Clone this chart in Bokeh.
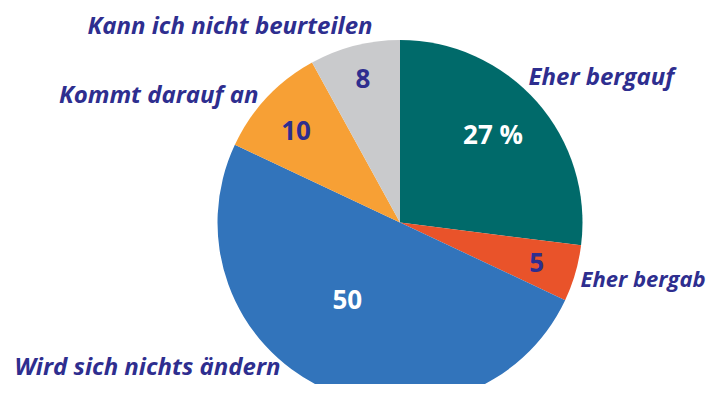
import math
from bokeh.plotting import figure
from bokeh.models import Range1d, ColumnDataSource
from bokeh.core.properties import value
from bokeh.embed import file_html
from bokeh.resources import INLINE

# ---- data ----
categories = ["Eher bergauf", "Eher bergab", "Wird sich nichts ändern",
              "Kommt darauf an", "Kann ich nicht beurteilen"]
values = [27, 5, 50, 10, 8]
value_labels = ["27 %", "5", "50", "10", "8"]

# ---- styles / layout ----
colors = ["#006a6a", "#e9532a", "#3274bb", "#f7a035", "#c9cacc"]
value_colors = ["#ffffff", "#2e2e8f", "#ffffff", "#2e2e8f", "#2e2e8f"]
TEXT = "#2e2e8f"
CX, CY, R = 399.5, 178.0, 182.5
val_rf = [0.705, 0.78, 0.51, 0.76, 0.815]      # radius fraction for value labels
val_da = [2.3, 0.0, -9.3, 1.7, 0.0]            # angle tweak (deg)
cat_dx = [128.5, 180.5, -119.5, -141.5, -27.5]
cat_dy = [147, -55, -143, 129, 198]
cat_size = ["24px", "22px", "24px", "24px", "24px"]
cat_align = ["left", "left", "right", "right", "right"]

total = float(sum(values))
starts, ends, mids = [], [], []
cum = 0.0
for v in values:
    a0 = math.pi / 2 - 2 * math.pi * cum / total
    cum += v
    a1 = math.pi / 2 - 2 * math.pi * cum / total
    starts.append(a0)
    ends.append(a1)
    mids.append((a0 + a1) / 2)

src = ColumnDataSource(dict(start=starts, end=ends, color=colors,
                            x=[CX] * len(values), y=[CY] * len(values)))

p = figure(width=712, height=384, output_backend="svg", toolbar_location=None,
           x_range=Range1d(0, 712), y_range=Range1d(16, 400), min_border=0)
p.axis.visible = False
p.grid.visible = False
p.outline_line_color = None
p.background_fill_color = "white"
p.border_fill_color = "white"

p.wedge(x="x", y="y", radius=R, start_angle="start", end_angle="end",
        direction="clock", fill_color="color", line_color=None, source=src)

vx, vy = [], []
for m, rf, da in zip(mids, val_rf, val_da):
    a = m + math.radians(da)
    vx.append(CX + rf * R * math.cos(a))
    vy.append(CY + rf * R * math.sin(a))
vsrc = ColumnDataSource(dict(x=vx, y=vy, t=value_labels, c=value_colors))
p.text(x="x", y="y", text="t", text_color="c", source=vsrc,
       text_font=value("Open Sans"), text_font_style="bold",
       text_font_size="26px", text_align="center", text_baseline="middle")

for name, dx, dy, al, fs in zip(categories, cat_dx, cat_dy, cat_align, cat_size):
    p.text(x=[CX + dx], y=[CY + dy], text=[name], text_color=TEXT,
           text_font=value("Open Sans"), text_font_style="bold italic",
           text_font_size=fs, text_align=al, text_baseline="alphabetic")

open("out.html", "w").write(file_html(p, INLINE))
